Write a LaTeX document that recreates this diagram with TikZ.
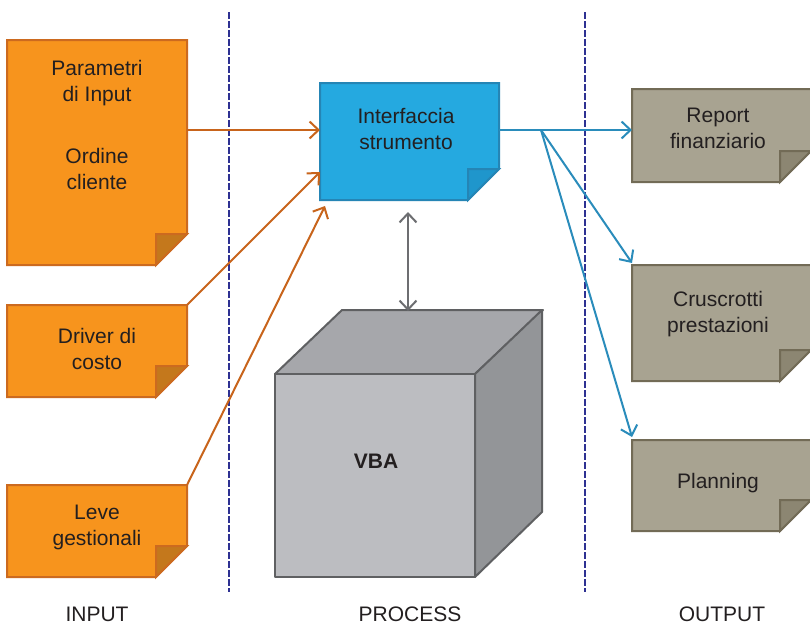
\documentclass[tikz,border=0pt]{standalone}
\usepackage{fontspec}
\setmainfont{Liberation Sans}
\usetikzlibrary{arrows.meta,calc}

\definecolor{txt}{HTML}{231F20}
\definecolor{orfill}{HTML}{F7941D}
\definecolor{ordraw}{HTML}{CC6A1F}
\definecolor{orfold}{HTML}{C4781C}
\definecolor{blfill}{HTML}{25A9E0}
\definecolor{bldraw}{HTML}{2585B5}
\definecolor{blfold}{HTML}{1F96CC}
\definecolor{grfill}{HTML}{A8A391}
\definecolor{grdraw}{HTML}{726B56}
\definecolor{grfold}{HTML}{8C8672}
\definecolor{cubefront}{HTML}{BCBDC1}
\definecolor{cubetopc}{HTML}{A6A7AB}
\definecolor{cuberight}{HTML}{939598}
\definecolor{cubeline}{HTML}{5F6062}
\definecolor{divider}{HTML}{2E3192}
\definecolor{orarrow}{HTML}{C8641B}
\definecolor{blarrow}{HTML}{2A8CBB}
\definecolor{grarrow}{HTML}{6D6E71}

\newlength{\foldsize}
\setlength{\foldsize}{31pt}

% a sheet with its lower right corner turned up
\newcommand{\foldsheet}[4]{%
  \filldraw[fill=#2,draw=#3,line width=2pt,line join=miter]
    (#1.north west) -- (#1.north east)
    -- ([yshift=\foldsize]#1.south east)
    -- ([xshift=-\foldsize]#1.south east)
    -- (#1.south west) -- cycle;
  \filldraw[fill=#4,draw=#3,line width=2pt,line join=miter]
    ([xshift=-\foldsize]#1.south east)
    -- ([xshift=-\foldsize,yshift=\foldsize]#1.south east)
    -- ([yshift=\foldsize]#1.south east) -- cycle;
}

\tikzset{
  sheet/.style={rectangle,draw=none,inner sep=0pt,outer sep=0pt,
    minimum width=#1},
  sheet/.default=180pt,
  caption/.style={anchor=north,inner sep=0pt,align=center,text=txt,
    font=\fontsize{21}{26}\selectfont},
  footer/.style={anchor=base,inner sep=0pt,text=txt,
    font=\fontsize{21}{26}\selectfont},
  tip/.style={-{Straight Barb[length=9pt,width=17pt,line width=2pt]}},
  orline/.style={tip,draw=orarrow,line width=2pt},
  blline/.style={tip,draw=blarrow,line width=2pt},
}

\begin{document}
\begin{tikzpicture}[x=1pt,y=-1pt]
\clip (0,0) rectangle (810,624);
\fill[white] (0,0) rectangle (810,624);

% column dividers
\draw[divider,line width=1.5pt,dash pattern=on 7pt off 2pt] (229,12) -- (229,592);
\draw[divider,line width=1.5pt,dash pattern=on 7pt off 2pt] (585,12) -- (585,592);

% input sheets
\node[sheet,minimum height=225pt] (par) at (97,152.5) {};
\node[sheet,minimum height=92pt] (drv) at (97,351) {};
\node[sheet,minimum height=92pt] (lev) at (97,531) {};
\foldsheet{par}{orfill}{ordraw}{orfold}
\foldsheet{drv}{orfill}{ordraw}{orfold}
\foldsheet{lev}{orfill}{ordraw}{orfold}
\node[caption] (partxt) at (97,60) {Parametri\\di Input\\[36pt]Ordine\\cliente};
\node[caption] (drvtxt) at (97,328) {Driver di\\costo};
\node[caption] (levtxt) at (97,505) {Leve\\gestionali};

% tool interface
\node[sheet=179pt,minimum height=117pt] (intf) at (409.5,141.5) {};
\foldsheet{intf}{blfill}{bldraw}{blfold}
\node[caption] (intftxt) at (406,108) {Interfaccia\\strumento};

% output sheets
\node[sheet=179pt,minimum height=93pt] (rep) at (721.5,135.5) {};
\node[sheet=179pt,minimum height=116pt] (crus) at (721.5,323) {};
\node[sheet=179pt,minimum height=91pt] (plan) at (721.5,485.5) {};
\foldsheet{rep}{grfill}{grdraw}{grfold}
\foldsheet{crus}{grfill}{grdraw}{grfold}
\foldsheet{plan}{grfill}{grdraw}{grfold}
\node[caption] (reptxt) at (718,108) {Report\\finanziario};
\node[caption] (crustxt) at (718,291.5) {Cruscrotti\\prestazioni};
\node[caption] (plantxt) at (718,473) {Planning};

% VBA cube
\node[rectangle,inner sep=0pt,outer sep=0pt,minimum width=200pt,
  minimum height=203pt] (vba) at (375,475.5) {};
\filldraw[fill=cubetopc,draw=cubeline,line width=2pt,line join=round]
  (vba.north west) -- ++(67,-64) -- ++(201,0) -- (vba.north east) -- cycle;
\filldraw[fill=cuberight,draw=cubeline,line width=2pt,line join=round]
  (vba.north east) -- ++(67,-64) -- ++(0,202) -- (vba.south east) -- cycle;
\filldraw[fill=cubefront,draw=cubeline,line width=2pt,line join=round]
  (vba.north west) rectangle (vba.south east);
\node[anchor=base,inner sep=0pt,text=txt,
  font=\fontsize{21}{26}\selectfont\bfseries] (vbatxt) at (376,468) {VBA};
\coordinate (cubetop) at (408,311);

% connectors into the interface
\draw[orline] (par.east |- 0,130) -- (intf.west |- 0,130);
\draw[orline] (drv.north east) -- ([yshift=28pt]intf.south west);
\draw[orline] (lev.north east) -- ([xshift=5pt,yshift=-6pt]intf.south west);

% interface <-> VBA
\draw[{Straight Barb[length=9pt,width=17pt,line width=2pt]}-{Straight Barb[length=9pt,width=17pt,line width=2pt]},
  draw=grarrow,line width=2pt,shorten <=12pt]
  (intf.south -| cubetop) -- (cubetop);

% connectors to the outputs
\coordinate (branch) at (541,130);
\draw[blline] (intf.east |- branch) -- (rep.west |- branch);
\draw[blline] (branch) -- ([yshift=2pt]crus.north west);
\draw[blline] (branch) -- ([yshift=3pt]plan.north west);

% column titles
\node[footer] (inp) at (97,621) {INPUT};
\node[footer] (proc) at (410,621) {PROCESS};
\node[footer] (outp) at (722,621) {OUTPUT};
\end{tikzpicture}
\end{document}
